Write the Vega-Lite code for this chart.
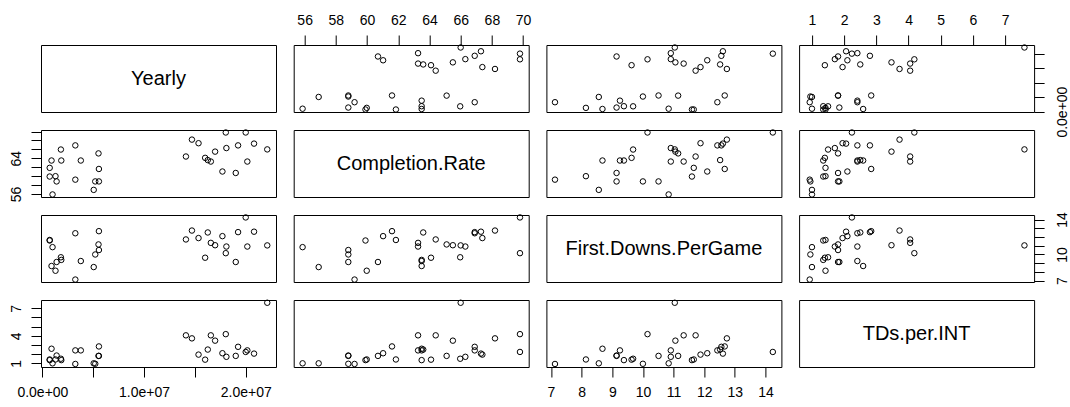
{
  "$schema": "https://vega.github.io/schema/vega-lite/v6.json",
  "background": "white",
  "padding": {"left": 8, "top": 12, "right": 0, "bottom": 0},
  "data": {"values": [
    {"yearly":3240000,"completion":59.2,"firstdowns":7.13,"tdsperint":0.93},
    {"yearly":3240000,"completion":66.9,"firstdowns":12.43,"tdsperint":2.41},
    {"yearly":5560000,"completion":61.6,"firstdowns":12.67,"tdsperint":2.84},
    {"yearly":5520000,"completion":65.1,"firstdowns":11.15,"tdsperint":1.81},
    {"yearly":5560000,"completion":58.8,"firstdowns":10.51,"tdsperint":1.81},
    {"yearly":5200000,"completion":58.8,"firstdowns":10.0,"tdsperint":0.95},
    {"yearly":5050000,"completion":56.9,"firstdowns":8.56,"tdsperint":1.0},
    {"yearly":3780000,"completion":63.5,"firstdowns":9.25,"tdsperint":2.41},
    {"yearly":720000,"completion":61.85,"firstdowns":11.66,"tdsperint":1.42},
    {"yearly":1000000,"completion":55.87,"firstdowns":10.84,"tdsperint":1.0},
    {"yearly":720000,"completion":59.9,"firstdowns":11.6,"tdsperint":1.35},
    {"yearly":900000,"completion":63.5,"firstdowns":8.68,"tdsperint":2.59},
    {"yearly":1820000,"completion":65.97,"firstdowns":9.68,"tdsperint":1.5},
    {"yearly":1860000,"completion":63.5,"firstdowns":9.38,"tdsperint":1.35},
    {"yearly":1400000,"completion":58.8,"firstdowns":9.14,"tdsperint":1.85},
    {"yearly":1290000,"completion":59.98,"firstdowns":8.14,"tdsperint":1.42},
    {"yearly":22120000,"completion":66.0,"firstdowns":11.04,"tdsperint":7.6},
    {"yearly":20000000,"completion":69.8,"firstdowns":14.24,"tdsperint":2.24},
    {"yearly":18040000,"completion":69.8,"firstdowns":10.15,"tdsperint":4.18},
    {"yearly":14120000,"completion":64.4,"firstdowns":11.72,"tdsperint":4.05},
    {"yearly":14710000,"completion":68.2,"firstdowns":12.74,"tdsperint":3.72},
    {"yearly":15360000,"completion":67.39,"firstdowns":11.88,"tdsperint":1.95},
    {"yearly":16010000,"completion":64.1,"firstdowns":9.63,"tdsperint":1.4},
    {"yearly":16270000,"completion":63.6,"firstdowns":12.52,"tdsperint":2.5},
    {"yearly":16570000,"completion":63.27,"firstdowns":11.33,"tdsperint":4.05},
    {"yearly":16990000,"completion":65.5,"firstdowns":11.06,"tdsperint":3.47},
    {"yearly":17710000,"completion":61.03,"firstdowns":12.1,"tdsperint":2.1},
    {"yearly":18100000,"completion":66.3,"firstdowns":10.91,"tdsperint":1.71},
    {"yearly":19020000,"completion":60.7,"firstdowns":9.14,"tdsperint":1.81},
    {"yearly":19250000,"completion":66.9,"firstdowns":12.56,"tdsperint":2.8},
    {"yearly":20160000,"completion":63.27,"firstdowns":10.91,"tdsperint":2.41},
    {"yearly":20820000,"completion":67.3,"firstdowns":12.61,"tdsperint":2.06}
  ]},
  "columns": 4,
  "bounds": "flush",
  "spacing": {"row": 18, "column": 17.7},
  "concat": [
    {"data": {"values": [{"label": "Yearly"}]}, "width": 235, "height": 67,
     "view": {"stroke": "#000", "strokeWidth": 1},
     "mark": {"type": "text", "font": "Liberation Sans", "fontSize": 20, "color": "#000"},
     "encoding": {"text": {"field": "label"}}},
    {"width": 235, "height": 67, "mark": "point",
     "encoding": {
       "x": {"field": "completion", "type": "quantitative", "scale": {"domain": [55.3, 70.36], "nice": false, "zero": false},
             "axis": {"orient": "top", "values": [56,58,60,62,64,66,68,70], "title": null, "labelAngle": 0}},
       "y": {"field": "yearly", "type": "quantitative", "scale": {"domain": [-136000, 22980000], "nice": false, "zero": false}, "axis": null}}},
    {"width": 235, "height": 67, "mark": "point",
     "encoding": {
       "x": {"field": "firstdowns", "type": "quantitative", "scale": {"domain": [6.85, 14.52], "nice": false, "zero": false}, "axis": null},
       "y": {"field": "yearly", "type": "quantitative", "scale": {"domain": [-136000, 22980000], "nice": false, "zero": false}, "axis": null}}},
    {"width": 235, "height": 67, "mark": "point",
     "encoding": {
       "x": {"field": "tdsperint", "type": "quantitative", "scale": {"domain": [0.6, 7.9], "nice": false, "zero": false},
             "axis": {"orient": "top", "values": [1,2,3,4,5,6,7], "title": null, "labelAngle": 0}},
       "y": {"field": "yearly", "type": "quantitative", "scale": {"domain": [-136000, 22980000], "nice": false, "zero": false},
             "axis": {"orient": "right", "values": [0,5000000,10000000,15000000,20000000], "labelExpr": "datum.value == 0 ? '0.0e+00' : ''", "title": null, "labelAngle": 270, "labelAlign": "center", "labelBaseline": "top", "labelPadding": 11}}}},

    {"width": 235, "height": 67, "mark": "point",
     "encoding": {
       "x": {"field": "yearly", "type": "quantitative", "scale": {"domain": [-136000, 22980000], "nice": false, "zero": false}, "axis": null},
       "y": {"field": "completion", "type": "quantitative", "scale": {"domain": [55.3, 70.36], "nice": false, "zero": false},
             "axis": {"orient": "left", "values": [56,58,60,62,64,66,68,70], "labelExpr": "datum.value == 56 || datum.value == 64 ? datum.label : ''", "title": null, "labelAngle": 270, "labelAlign": "center", "labelBaseline": "bottom"}}}},
    {"data": {"values": [{"label": "Completion.Rate"}]}, "width": 235, "height": 67,
     "view": {"stroke": "#000", "strokeWidth": 1},
     "mark": {"type": "text", "font": "Liberation Sans", "fontSize": 20, "color": "#000"},
     "encoding": {"text": {"field": "label"}}},
    {"width": 235, "height": 67, "mark": "point",
     "encoding": {
       "x": {"field": "firstdowns", "type": "quantitative", "scale": {"domain": [6.85, 14.52], "nice": false, "zero": false}, "axis": null},
       "y": {"field": "completion", "type": "quantitative", "scale": {"domain": [55.3, 70.36], "nice": false, "zero": false}, "axis": null}}},
    {"width": 235, "height": 67, "mark": "point",
     "encoding": {
       "x": {"field": "tdsperint", "type": "quantitative", "scale": {"domain": [0.6, 7.9], "nice": false, "zero": false}, "axis": null},
       "y": {"field": "completion", "type": "quantitative", "scale": {"domain": [55.3, 70.36], "nice": false, "zero": false}, "axis": null}}},

    {"width": 235, "height": 67, "mark": "point",
     "encoding": {
       "x": {"field": "yearly", "type": "quantitative", "scale": {"domain": [-136000, 22980000], "nice": false, "zero": false}, "axis": null},
       "y": {"field": "firstdowns", "type": "quantitative", "scale": {"domain": [6.85, 14.52], "nice": false, "zero": false}, "axis": null}}},
    {"width": 235, "height": 67, "mark": "point",
     "encoding": {
       "x": {"field": "completion", "type": "quantitative", "scale": {"domain": [55.3, 70.36], "nice": false, "zero": false}, "axis": null},
       "y": {"field": "firstdowns", "type": "quantitative", "scale": {"domain": [6.85, 14.52], "nice": false, "zero": false}, "axis": null}}},
    {"data": {"values": [{"label": "First.Downs.PerGame"}]}, "width": 235, "height": 67,
     "view": {"stroke": "#000", "strokeWidth": 1},
     "mark": {"type": "text", "font": "Liberation Sans", "fontSize": 20, "color": "#000"},
     "encoding": {"text": {"field": "label"}}},
    {"width": 235, "height": 67, "mark": "point",
     "encoding": {
       "x": {"field": "tdsperint", "type": "quantitative", "scale": {"domain": [0.6, 7.9], "nice": false, "zero": false}, "axis": null},
       "y": {"field": "firstdowns", "type": "quantitative", "scale": {"domain": [6.85, 14.52], "nice": false, "zero": false},
             "axis": {"orient": "right", "values": [7,8,9,10,11,12,13,14], "labelExpr": "datum.value == 7 || datum.value == 10 || datum.value == 14 ? datum.label : ''", "title": null, "labelAngle": 270, "labelAlign": "center", "labelBaseline": "top", "labelPadding": 11}}}},

    {"width": 235, "height": 67, "mark": "point",
     "encoding": {
       "x": {"field": "yearly", "type": "quantitative", "scale": {"domain": [-136000, 22980000], "nice": false, "zero": false},
             "axis": {"orient": "bottom", "values": [0,5000000,10000000,15000000,20000000], "labelExpr": "datum.value == 0 ? '0.0e+00' : datum.value == 10000000 ? '1.0e+07' : datum.value == 20000000 ? '2.0e+07' : ''", "title": null, "labelAngle": 0}},
       "y": {"field": "tdsperint", "type": "quantitative", "scale": {"domain": [0.6, 7.9], "nice": false, "zero": false},
             "axis": {"orient": "left", "values": [1,2,3,4,5,6,7], "labelExpr": "datum.value == 1 || datum.value == 4 || datum.value == 7 ? datum.label : ''", "title": null, "labelAngle": 270, "labelAlign": "center", "labelBaseline": "bottom"}}}},
    {"width": 235, "height": 67, "mark": "point",
     "encoding": {
       "x": {"field": "completion", "type": "quantitative", "scale": {"domain": [55.3, 70.36], "nice": false, "zero": false}, "axis": null},
       "y": {"field": "tdsperint", "type": "quantitative", "scale": {"domain": [0.6, 7.9], "nice": false, "zero": false}, "axis": null}}},
    {"width": 235, "height": 67, "mark": "point",
     "encoding": {
       "x": {"field": "firstdowns", "type": "quantitative", "scale": {"domain": [6.85, 14.52], "nice": false, "zero": false},
             "axis": {"orient": "bottom", "values": [7,8,9,10,11,12,13,14], "title": null, "labelAngle": 0}},
       "y": {"field": "tdsperint", "type": "quantitative", "scale": {"domain": [0.6, 7.9], "nice": false, "zero": false}, "axis": null}}},
    {"data": {"values": [{"label": "TDs.per.INT"}]}, "width": 235, "height": 67,
     "view": {"stroke": "#000", "strokeWidth": 1},
     "mark": {"type": "text", "font": "Liberation Sans", "fontSize": 20, "color": "#000"},
     "encoding": {"text": {"field": "label"}}}
  ],
  "config": {
    "view": {"stroke": "#000", "strokeWidth": 1},
    "axis": {"domain": false, "grid": false, "ticks": true, "tickSize": 10, "tickColor": "#000", "tickWidth": 1,
             "labelFont": "Liberation Sans", "labelFontSize": 14, "labelColor": "#000", "labelPadding": 8,
             "labelFlush": false, "labelOverlap": false, "labelBound": false},
    "point": {"shape": "circle", "filled": false, "size": 30, "stroke": "#000", "strokeWidth": 1, "opacity": 1, "color": "#000"}
  }
}
